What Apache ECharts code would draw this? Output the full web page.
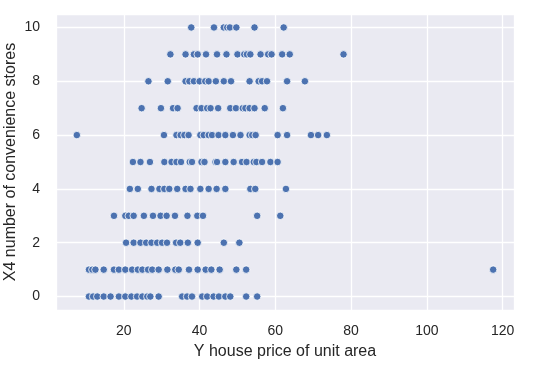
<!DOCTYPE html>
<html>
<head>
<meta charset="utf-8">
<script src="https://cdn.jsdelivr.net/npm/echarts@6/dist/echarts.min.js"></script>
<style>
html,body{margin:0;padding:0;background:#fff;}
#chart{width:553px;height:370px;}
</style>
</head>
<body>
<div id="chart"></div>
<script>
// Y house price of unit area, grouped by X4 number of convenience stores
var stores0 = [10.8, 11.9, 13.0, 14.7, 16.5, 18.7, 20.4, 22.0, 23.5, 24.9, 26.2, 27.0, 29.2, 35.4, 36.7, 38.0, 40.7, 42.0, 43.7, 45.1, 46.8, 48.1, 52.3, 55.2];
var stores1 = [10.8, 11.7, 12.5, 14.7, 17.4, 18.7, 20.4, 22.2, 23.7, 24.9, 26.4, 27.5, 29.2, 31.5, 33.6, 34.5, 37.2, 39.5, 41.6, 43.1, 45.3, 49.7, 52.3, 117.5];
var stores2 = [20.6, 22.6, 24.4, 25.9, 27.3, 28.8, 30.1, 31.4, 33.8, 34.9, 36.9, 39.5, 46.4, 50.5];
var stores3 = [17.4, 20.4, 21.3, 22.6, 25.3, 27.7, 29.7, 31.3, 33.5, 36.8, 39.4, 40.9, 55.2, 61.3];
var stores4 = [21.6, 23.7, 27.3, 29.4, 30.7, 32.0, 34.1, 36.3, 37.6, 40.2, 42.4, 44.5, 46.8, 53.4, 54.7, 62.8];
var stores5 = [22.4, 24.4, 26.9, 30.7, 32.6, 33.9, 35.1, 37.4, 38.0, 40.5, 41.3, 44.2, 44.6, 46.8, 49.0, 51.2, 52.4, 54.3, 55.0, 56.5, 58.7, 60.6];
var stores6 = [7.6, 30.6, 33.9, 35.0, 36.0, 37.1, 40.2, 41.1, 42.4, 43.3, 45.0, 46.8, 48.8, 50.8, 53.2, 53.9, 54.8, 60.6, 63.1, 69.4, 71.3, 73.6];
var stores7 = [24.7, 29.8, 33.0, 34.2, 39.2, 40.5, 42.0, 42.9, 44.9, 48.1, 49.6, 51.4, 52.1, 53.2, 54.5, 57.2, 62.0];
var stores8 = [26.5, 31.6, 36.3, 37.3, 38.5, 40.0, 41.5, 42.4, 44.3, 46.4, 48.3, 53.2, 55.6, 56.5, 57.8, 63.1, 67.8];
var stores9 = [32.3, 36.3, 38.5, 39.5, 41.7, 44.6, 47.1, 50.0, 51.8, 52.5, 53.4, 56.1, 58.1, 59.0, 61.8, 63.8, 78.0];
var stores10 = [37.8, 43.8, 46.4, 47.3, 48.0, 49.7, 54.5, 62.2];

var storeGroups = [stores0, stores1, stores2, stores3, stores4, stores5, stores6, stores7, stores8, stores9, stores10];
var xTickLabels = [20, 40, 60, 80, 100, 120];
var yTickLabels = [0, 2, 4, 6, 8, 10];

var points = [];
storeGroups.forEach(function (arr, k) {
  arr.forEach(function (p) { points.push([p, k]); });
});

var chart = echarts.init(document.getElementById('chart'), null, {renderer: 'canvas'});
var font = '"Liberation Sans", Arial, sans-serif';
chart.setOption({
  animation: false,
  backgroundColor: '#ffffff',
  grid: {left: 56, top: 14, right: 39, bottom: 60, show: true, backgroundColor: '#EAEAF2', borderWidth: 0,
         containLabel: false, outerBoundsMode: 'none'},
  xAxis: {
    type: 'value', min: 2.1, max: 123.0,
    name: 'Y house price of unit area', nameLocation: 'middle', nameGap: 34, nameMoveOverlap: false,
    nameTextStyle: {color: '#262626', fontSize: 16, fontFamily: font},
    axisLine: {show: false}, axisTick: {show: false},
    axisLabel: {color: '#262626', fontSize: 14, fontFamily: font, margin: 14,
      showMinLabel: true, showMaxLabel: true,
      formatter: function (v) { return xTickLabels.indexOf(Math.round(v * 1000) / 1000) >= 0 ? String(v) : ''; }},
    splitLine: {show: true, lineStyle: {color: '#ffffff', width: 1.3}}
  },
  yAxis: {
    type: 'value', min: -0.5, max: 10.5,
    name: 'X4 number of convenience stores', nameLocation: 'middle', nameGap: 37, nameRotate: 90,
    nameMoveOverlap: false,
    nameTextStyle: {color: '#262626', fontSize: 16, fontFamily: font},
    axisLine: {show: false}, axisTick: {show: false},
    axisLabel: {color: '#262626', fontSize: 14, fontFamily: font, margin: 16,
      formatter: function (v) { return yTickLabels.indexOf(Math.round(v * 1000) / 1000) >= 0 ? String(v) : ''; }},
    splitLine: {show: true, lineStyle: {color: '#ffffff', width: 1.3}}
  },
  series: [{
    type: 'scatter',
    data: points,
    symbolSize: 7.5,
    itemStyle: {color: '#4C72B0', borderColor: '#ffffff', borderWidth: 0.8, opacity: 1}
  }]
});
</script>
</body>
</html>
